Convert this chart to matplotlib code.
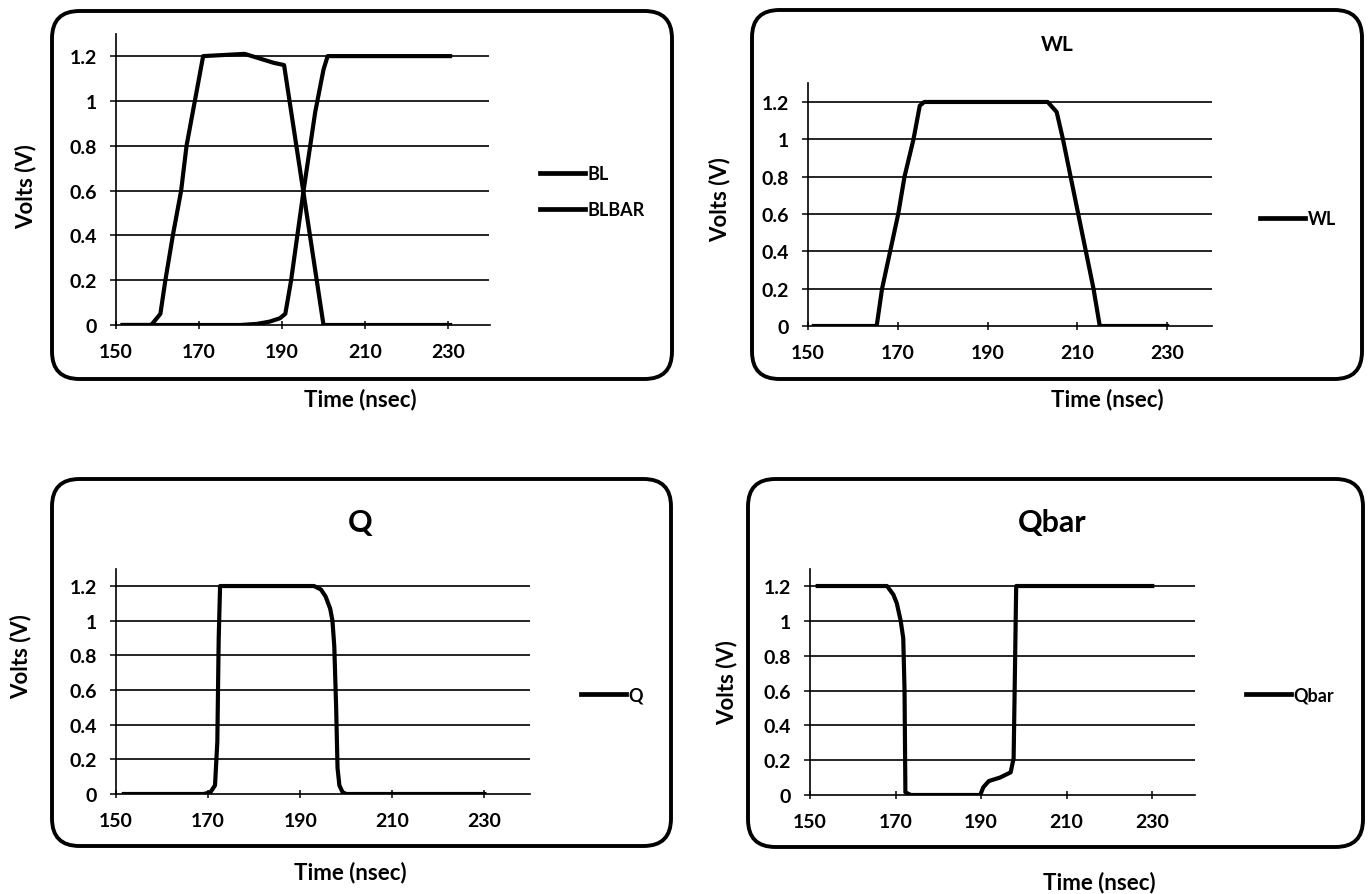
import matplotlib
matplotlib.use("Agg")
import matplotlib.pyplot as plt
from matplotlib.patches import FancyBboxPatch
import numpy as np

plt.rcParams['font.family'] = ['Lato', 'DejaVu Sans']

W, H = 1372, 895

# ---- data (time in nsec, volts) ----
bl_t = [151.6, 158.5, 160.7, 161.9, 163.7, 165.7, 167.0, 169.0, 171.0, 176, 181, 188, 190.5, 195.1, 200.0, 210, 220, 230.5]
bl_v = [0, 0, 0.05, 0.2, 0.4, 0.6, 0.8, 1.0, 1.2, 1.205, 1.21, 1.17, 1.16, 0.6, 0, 0, 0, 0]

blbar_t = [151.6, 160, 170, 180, 184, 187, 189.5, 190.8, 192.2, 195.2, 198.0, 200.0, 201.0, 210, 220, 230.5]
blbar_v = [0, 0, 0, 0, 0.005, 0.015, 0.03, 0.05, 0.2, 0.6, 0.95, 1.14, 1.2, 1.2, 1.2, 1.2]

wl_t = [151.3, 158, 165.3, 166.5, 170.1, 171.5, 173.5, 174.9, 175.9, 185, 195, 203.4, 205.4, 206.8, 210.2, 213.6, 215.0, 220, 230]
wl_v = [0, 0, 0, 0.2, 0.6, 0.8, 1.0, 1.18, 1.2, 1.2, 1.2, 1.2, 1.146, 1.0, 0.6, 0.2, 0, 0, 0]

q_t = [151.7, 160, 169, 170.5, 171.5, 172.0, 172.3, 172.6, 175, 185, 193, 194.5, 195.5, 196.5, 197.0, 197.4, 197.8, 198.1, 198.5, 199.2, 200.0, 210, 220, 230]
q_v = [0, 0, 0, 0.01, 0.05, 0.3, 0.9, 1.2, 1.2, 1.2, 1.2, 1.18, 1.14, 1.07, 1.0, 0.85, 0.5, 0.15, 0.05, 0.01, 0, 0, 0, 0]

qbar_t = [151.8, 160, 168.0, 169.5, 170.3, 171.2, 171.8, 172.1, 172.3, 173.6, 180, 189.8, 190.5, 191.8, 194.4, 196.9, 197.6, 197.9, 198.2, 205, 215, 230]
qbar_v = [1.2, 1.2, 1.2, 1.15, 1.1, 1.0, 0.9, 0.6, 0.015, 0, 0, 0, 0.044, 0.08, 0.10, 0.13, 0.21, 0.70, 1.2, 1.2, 1.2, 1.2]

x_ticks = [150, 170, 190, 210, 230]
y_ticks = [0, 0.2, 0.4, 0.6, 0.8, 1, 1.2]
y_ticklabels = ['0', '0.2', '0.4', '0.6', '0.8', '1', '1.2']

fig = plt.figure(figsize=(W / 100, H / 100), dpi=100)
fig.patch.set_facecolor('white')


def fx(px):
    return px / W


def fy(py):
    return 1 - py / H


def panel(box, area, series, title=None, title_xy=None, title_size=14,
          volts_xy=None, time_xy=None, legend_xy=None, legend_gap=1.2):
    # rounded frame around each chart
    bx0, by0, bx1, by1 = box
    frame = FancyBboxPatch((fx(bx0), fy(by1)), fx(bx1 - bx0), (by1 - by0) / H,
                           boxstyle="round,pad=0,rounding_size=0.02",
                           transform=fig.transFigure, fill=False,
                           edgecolor='black', linewidth=2.8,
                           mutation_aspect=W / H)
    fig.add_artist(frame)

    x0, x1, y0, y1 = area
    ax = fig.add_axes([fx(x0), fy(y0), fx(x1 - x0), (y0 - y1) / H])
    ax.set_xlim(150, 240)
    ax.set_ylim(0, 1.3)
    ax.patch.set_alpha(0)
    handles = []
    for t, v, name in series:
        ln, = ax.plot(t, v, color='black', linewidth=3.0, solid_joinstyle='round',
                      label=name, zorder=3)
        handles.append(ln)
    for yv in y_ticks[1:]:
        ax.axhline(yv, color='black', linewidth=1.2, zorder=1)
    for s in ['top', 'right']:
        ax.spines[s].set_visible(False)
    ax.spines['left'].set_linewidth(1.2)
    ax.spines['bottom'].set_linewidth(1.2)
    ax.set_xticks(x_ticks)
    ax.set_yticks(y_ticks)
    ax.set_yticklabels(y_ticklabels)
    ax.tick_params(axis='y', direction='out', length=4.5, width=1.1, pad=9,
                   labelsize=14)
    ax.tick_params(axis='x', direction='inout', length=6, width=1.1, pad=10,
                   labelsize=14)
    for lab in ax.get_xticklabels() + ax.get_yticklabels():
        lab.set_fontweight('bold')

    if title:
        fig.text(fx(title_xy[0]), fy(title_xy[1]), title, ha='center', va='center',
                 fontsize=title_size, fontweight='bold')
    fig.text(fx(volts_xy[0]), fy(volts_xy[1]), 'Volts (V)', rotation=90,
             ha='center', va='center', fontsize=16, fontweight='bold')
    fig.text(fx(time_xy[0]), fy(time_xy[1]), 'Time (nsec)', ha='center',
             va='center', fontsize=16, fontweight='bold')
    leg = fig.legend(handles=handles, loc='upper left',
                     bbox_to_anchor=(fx(legend_xy[0]), fy(legend_xy[1])),
                     frameon=False, handlelength=2.5,
                     handletextpad=0.15, labelspacing=legend_gap,
                     borderaxespad=0, borderpad=0,
                     prop={'weight': 'bold', 'size': 13})
    for h in leg.legend_handles:
        h.set_linewidth(3.4)
    return ax


panel(box=(52, 12, 672, 380), area=(116, 489.5, 326, 34.7),
      series=[(bl_t, bl_v, 'BL'), (blbar_t, blbar_v, 'BLBAR')],
      volts_xy=(26, 187), time_xy=(360, 400), legend_xy=(540, 166),
      legend_gap=1.05)

panel(box=(752, 11, 1362, 380), area=(808, 1212, 327, 84.3),
      series=[(wl_t, wl_v, 'WL')], title='WL', title_xy=(1057, 45),
      title_size=15, volts_xy=(720, 200), time_xy=(1107, 400),
      legend_xy=(1260, 211))

panel(box=(52, 480, 671, 847), area=(116, 530.5, 795, 569.7),
      series=[(q_t, q_v, 'Q')], title='Q', title_xy=(360, 523),
      title_size=22, volts_xy=(21, 657), time_xy=(350, 873),
      legend_xy=(581, 687))

panel(box=(748, 480, 1363, 848), area=(810, 1195, 796, 569.6),
      series=[(qbar_t, qbar_v, 'Qbar')], title='Qbar', title_xy=(1052, 523),
      title_size=22, volts_xy=(727, 683), time_xy=(1099, 883),
      legend_xy=(1246, 687))

fig.savefig('out.png', dpi=100, facecolor='white')
